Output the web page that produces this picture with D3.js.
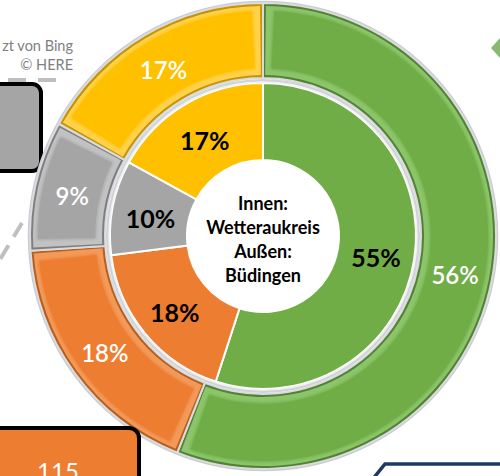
<!DOCTYPE html>
<html>
<head>
<meta charset="utf-8">
<script src="https://cdn.jsdelivr.net/npm/d3@7"></script>
<style>
  html, body { margin: 0; padding: 0; background: #fff; }
  svg { display: block; }
  text { font-family: Lato, "Open Sans", sans-serif; }
</style>
</head>
<body>
<svg id="chart" width="500" height="476"></svg>
<script>
// Shares per group: inner ring = Wetteraukreis, outer ring = Büdingen
const segmentKeys = ["gruen", "orange", "grau", "gelb"];
const innerValues = [55, 18, 10, 17];
const outerValues = [56, 18, 9, 17];
const centerLines = ["Innen:", "Wetteraukreis", "Außen:", "Büdingen"];
const boxLabel = "115";
const creditLines = ["zt von Bing", "© HERE"];

const fills = { gruen: "#70AD47", orange: "#ED7D31", grau: "#A5A5A5", gelb: "#FFC000" };
const darker = { gruen: "#548235", orange: "#B85F1E", grau: "#7F7F7F", gelb: "#C79400" };
const lighter = { gruen: "#8CC56A", orange: "#F39A5A", grau: "#C2C2C2", gelb: "#FFD24D" };

const svg = d3.select("#chart");
const cx = 263, cy = 236;
const rHole = 76, rInnerOuter = 153, rOuterInner = 158, rOuter = 233;

const defs = svg.append("defs");
defs.append("filter").attr("id", "soft")
  .append("feGaussianBlur").attr("stdDeviation", 1.6);

// --- surrounding fragments of the page ---
// credit text
svg.append("g").selectAll("text").data(creditLines).join("text")
  .attr("x", 73).attr("y", (d, i) => 51 + i * 19)
  .attr("text-anchor", "end").attr("font-size", 14.5).attr("fill", "#7F7F7F")
  .text(d => d);

// dashed connectors
svg.append("line").attr("x1", 8).attr("y1", 80).attr("x2", 56).attr("y2", 80)
  .attr("stroke", "#BFBFBF").attr("stroke-width", 4).attr("stroke-dasharray", "18,12");
svg.append("line").attr("x1", 22).attr("y1", 223).attr("x2", -4).attr("y2", 266)
  .attr("stroke", "#BFBFBF").attr("stroke-width", 4).attr("stroke-dasharray", "16,10");

// gray box at left
svg.append("rect").attr("x", -20).attr("y", 84).attr("width", 61).attr("height", 87)
  .attr("rx", 9).attr("fill", "#A5A5A5").attr("stroke", "#000").attr("stroke-width", 4);

// green arrow tip at right
svg.append("path").attr("d", "M491,48 L500,38 L500,58 Z").attr("fill", "#8DB870");

// --- donut ---
const g = svg.append("g").attr("transform", `translate(${cx},${cy})`);
const pie = d3.pie().sort(null).value(d => d.v);

const outerData = pie(segmentKeys.map((k, i) => ({ k, v: outerValues[i] })));
const innerData = pie(segmentKeys.map((k, i) => ({ k, v: innerValues[i] })));

// outer rim halo
g.append("circle").attr("r", rOuter + 1).attr("fill", "none")
  .attr("stroke", "#C9CCD2").attr("stroke-width", 2.5);

const arcOuter = d3.arc().innerRadius(rOuterInner).outerRadius(rOuter);
const outerG = g.append("g");
outerData.forEach(d => {
  // base segment with shaded (bevel) edge colour
  outerG.append("path").attr("d", arcOuter(d))
    .attr("fill", darker[d.data.k]).attr("stroke", "#D9DBDF").attr("stroke-width", 2);
  // light rim just inside the segment border
  const rimIn = 3 / rOuter;
  outerG.append("path")
    .attr("d", d3.arc().innerRadius(rOuterInner + 3).outerRadius(rOuter - 3)
      .startAngle(d.startAngle + rimIn).endAngle(d.endAngle - rimIn)())
    .attr("fill", lighter[d.data.k]);
  // inset face, softened so the bevel reads as a gradient
  const pad = 9;
  const rm = (rOuter + rOuterInner) / 2;
  outerG.append("path")
    .attr("d", d3.arc().innerRadius(rOuterInner + pad).outerRadius(rOuter - pad + 2)
      .startAngle(d.startAngle + pad / rm).endAngle(d.endAngle - pad / rm)())
    .attr("fill", fills[d.data.k]).attr("filter", "url(#soft)");
  outerG.append("path")
    .attr("d", d3.arc().innerRadius(rOuterInner + pad + 1).outerRadius(rOuter - pad + 1)
      .startAngle(d.startAngle + (pad + 1) / rm).endAngle(d.endAngle - (pad + 1) / rm)())
    .attr("fill", fills[d.data.k]);
});

// separator between rings
g.append("circle").attr("r", (rInnerOuter + rOuterInner) / 2).attr("fill", "none")
  .attr("stroke", "#D0D3D8").attr("stroke-width", 3);

const arcInner = d3.arc().innerRadius(rHole).outerRadius(rInnerOuter);
g.append("g").selectAll("path").data(innerData).join("path")
  .attr("d", arcInner)
  .attr("fill", d => fills[d.data.k])
  .attr("stroke", "#fff").attr("stroke-width", 2);

// inner-ring separator highlight
g.append("circle").attr("r", rInnerOuter + 1).attr("fill", "none")
  .attr("stroke", "#F2F2F2").attr("stroke-width", 1.5);

// white hole
g.append("circle").attr("r", rHole).attr("fill", "#fff");

// labels
g.append("g").selectAll("text").data(outerData).join("text")
  .attr("transform", d => { const [x, y] = arcOuter.centroid(d); return `translate(${x},${y + 2})`; })
  .attr("text-anchor", "middle").attr("dominant-baseline", "central")
  .attr("font-size", 24).attr("fill", "#fff").attr("font-weight", 600)
  .text(d => d.data.v + "%");

g.append("g").selectAll("text").data(innerData).join("text")
  .attr("transform", d => { const [x, y] = arcInner.centroid(d); return `translate(${x},${y + 3})`; })
  .attr("text-anchor", "middle").attr("dominant-baseline", "central")
  .attr("font-size", 25).attr("font-weight", 700).attr("fill", "#000")
  .text(d => d.data.v + "%");

g.append("g").selectAll("text").data(centerLines).join("text")
  .attr("x", 0).attr("y", (d, i) => -33 + i * 24)
  .attr("text-anchor", "middle").attr("dominant-baseline", "central")
  .attr("font-size", 18).attr("font-weight", 700).attr("fill", "#000")
  .text(d => d);

// orange box at bottom left
svg.append("rect").attr("x", -20).attr("y", 428).attr("width", 159).attr("height", 80)
  .attr("rx", 10).attr("fill", "#ED7D31").attr("stroke", "#000").attr("stroke-width", 4);
svg.append("text").attr("x", 58).attr("y", 480).attr("text-anchor", "middle")
  .attr("font-size", 24).attr("fill", "#fff").text(boxLabel);

// navy callout at bottom right
svg.append("path").attr("d", "M372,480 L385,464 L505,464 L505,480")
  .attr("fill", "#fff").attr("stroke", "#1F3864").attr("stroke-width", 3.5);
</script>
</body>
</html>
